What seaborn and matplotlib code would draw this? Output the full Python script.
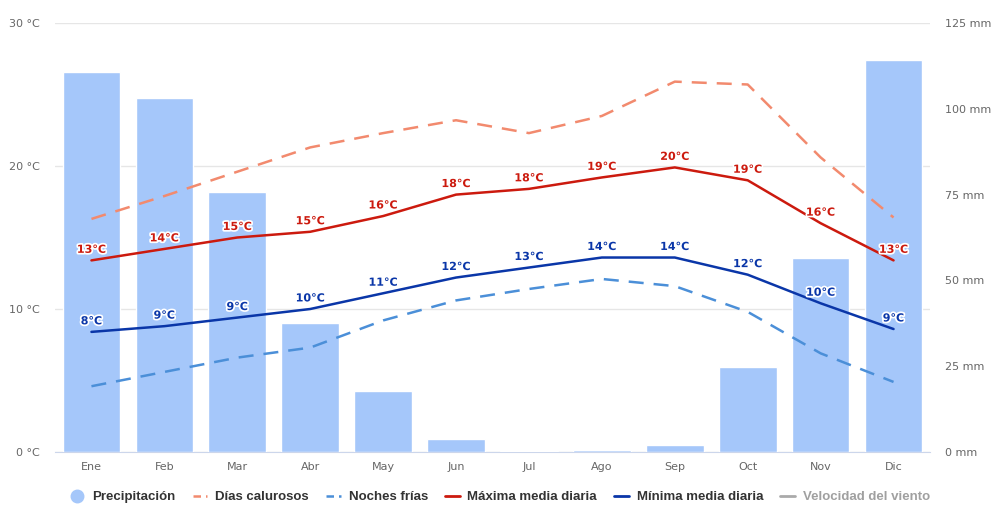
import matplotlib
matplotlib.use("Agg")
import matplotlib.pyplot as plt
import matplotlib.patheffects as pe
from matplotlib.lines import Line2D
import seaborn as sns
import numpy as np


# Data
months = ["Ene", "Feb", "Mar", "Abr", "May", "Jun", "Jul", "Ago", "Sep", "Oct", "Nov", "Dic"]
precip = [110.7, 103.1, 75.8, 37.6, 17.8, 3.8, 0.2, 0.5, 2.0, 24.8, 56.5, 114.2]
hot_days = [16.3, 17.9, 19.6, 21.3, 22.3, 23.2, 22.3, 23.5, 25.9, 25.7, 20.6, 16.4]
cold_nights = [4.6, 5.6, 6.6, 7.3, 9.2, 10.6, 11.4, 12.1, 11.6, 9.8, 6.9, 4.9]
temp_max = [13.4, 14.2, 15.0, 15.4, 16.5, 18.0, 18.4, 19.2, 19.9, 19.0, 16.0, 13.4]
temp_min = [8.4, 8.8, 9.4, 10.0, 11.1, 12.2, 12.9, 13.6, 13.6, 12.4, 10.4, 8.6]

temp_ticks = [0, 10, 20, 30]
mm_ticks = [0, 25, 50, 75, 100, 125]

# Style
bar_color = "#a5c7fa"
red = "#cc1a0e"
navy = "#0a36a8"
salmon = "#f28a6e"
sky = "#4b8fd8"
grid_color = "#e6e6e6"
tick_color = "#666666"
legend_color = "#333333"

sns.set_style("white")
plt.rcParams["font.family"] = ["DejaVu Sans"]

fig = plt.figure(figsize=(10, 5.24), dpi=100, facecolor="white")
ax = fig.add_axes([0.055, 0.1374, 0.875, 0.8187])
ax_bar = ax.twinx()
ax_line = ax.twinx()
x = np.arange(len(months))

# Bars (precipitation, right axis)
sns.barplot(x=x, y=precip, color=bar_color, saturation=1, width=0.79,
            native_scale=True, ax=ax_bar, zorder=2)
ax_bar.set_ylim(0, 125)
ax_bar.set_yticks(mm_ticks)
ax_bar.set_yticklabels([f"{t} mm" for t in mm_ticks])
ax_bar.tick_params(axis="y", colors=tick_color, labelsize=8, length=0, pad=11)

# Lines (temperature)
sns.lineplot(x=x, y=hot_days, color=salmon, lw=1.8, ax=ax_line)
ax_line.lines[-1].set_dashes([6, 4])
sns.lineplot(x=x, y=cold_nights, color=sky, lw=1.8, ax=ax_line)
ax_line.lines[-1].set_dashes([6, 4])
sns.lineplot(x=x, y=temp_max, color=red, lw=1.8, ax=ax_line)
sns.lineplot(x=x, y=temp_min, color=navy, lw=1.8, ax=ax_line)

halo = [pe.withStroke(linewidth=2.5, foreground="white")]
for series, col in [(temp_max, red), (temp_min, navy)]:
    for i, v in enumerate(series):
        ax_line.annotate(f"{round(v)}°C", (i, v), xytext=(0, 4), textcoords="offset points",
                         ha="center", va="bottom", color=col, fontsize=8,
                         fontweight="bold", path_effects=halo, zorder=5)

ax_line.set_ylim(0, 30)
ax_line.set_yticks([])
ax_line.set_ylabel("")

# Base axis: grid + left temperature labels
ax.set_ylim(0, 30)
ax.set_yticks(temp_ticks)
ax.set_yticklabels([f"{t} °C" for t in temp_ticks])
ax.yaxis.grid(True, color=grid_color, lw=1)
ax.tick_params(axis="y", colors=tick_color, labelsize=8, length=0, pad=11)

ax.set_xlim(-0.5, len(months) - 0.5)
ax.set_xticks(x)
ax.set_xticklabels(months)
ax.tick_params(axis="x", colors=tick_color, labelsize=8, length=0, pad=7)

for a in (ax, ax_bar, ax_line):
    for s in a.spines.values():
        s.set_visible(False)
ax.spines["bottom"].set_visible(True)
ax.spines["bottom"].set_color("#ccd6eb")
ax_bar.set_xlabel("")
ax_line.set_xlabel("")

# Legend
handles = [
    Line2D([], [], marker="o", ls="none", markersize=9, color=bar_color),
    Line2D([], [], color=salmon, lw=1.8, dashes=[3, 2]),
    Line2D([], [], color=sky, lw=1.8, dashes=[3, 2]),
    Line2D([], [], color=red, lw=2),
    Line2D([], [], color=navy, lw=2),
    Line2D([], [], color="#aaaaaa", lw=2),
]
labels = ["Precipitación", "Días calurosos", "Noches frías", "Máxima media diaria",
          "Mínima media diaria", "Velocidad del viento"]
leg = fig.legend(handles, labels, loc="center", bbox_to_anchor=(0.5, 0.051), ncol=6,
                 frameon=False, handlelength=1.1, handletextpad=0.6, columnspacing=1.3,
                 prop={"family": "Liberation Sans", "weight": "bold", "size": 9.5})
for t in leg.get_texts():
    t.set_color(legend_color)
leg.get_texts()[-1].set_color("#a0a0a0")

fig.savefig("out.png", dpi=100, facecolor="white")
